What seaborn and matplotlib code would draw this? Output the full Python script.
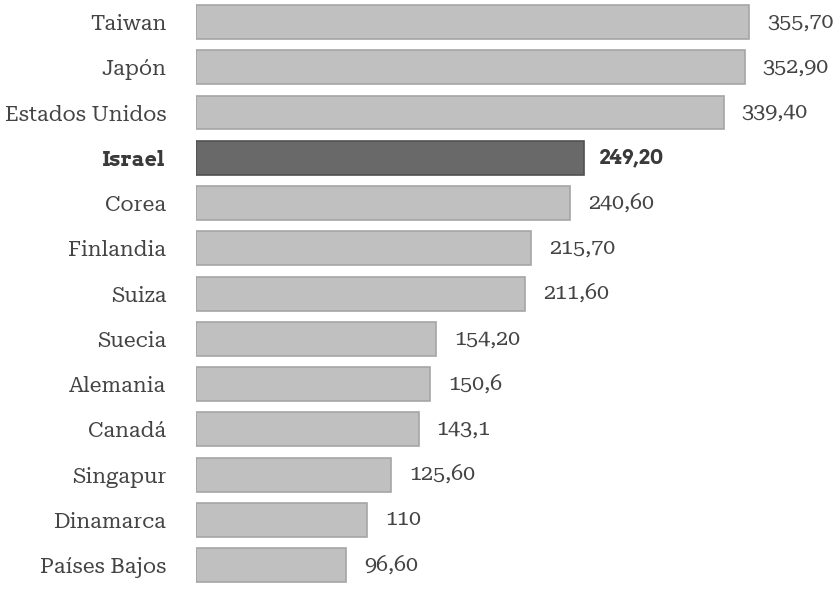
import matplotlib.pyplot as plt
import pandas as pd
import seaborn as sns

paises = ['Taiwan', 'Japón', 'Estados Unidos', 'Israel', 'Corea', 'Finlandia', 'Suiza',
          'Suecia', 'Alemania', 'Canadá', 'Singapur', 'Dinamarca', 'Países Bajos']
valores = [355.70, 352.90, 339.40, 249.20, 240.60, 215.70, 211.60,
           154.20, 150.6, 143.1, 125.60, 110, 96.60]
etiquetas = ['355,70', '352,90', '339,40', '249,20', '240,60', '215,70', '211,60',
             '154,20', '150,6', '143,1', '125,60', '110', '96,60']
destacado = 'Israel'

sns.set_style('white')
plt.rcParams['font.family'] = ['Roboto Serif', 'DejaVu Serif']

df = pd.DataFrame({'pais': paises, 'valor': valores})
colores = {p: ('#696969' if p == destacado else '#c0c0c0') for p in paises}
bordes = ['#505050' if p == destacado else '#a5a5a5' for p in paises]

fig = plt.figure(figsize=(8.35, 5.9), dpi=100)
ax = fig.add_axes([196 / 835, 0, 1 - 196 / 835, 1])
sns.barplot(data=df, x='valor', y='pais', hue='pais', palette=colores,
            legend=False, width=0.75, ax=ax, linewidth=1.2)
for patch, b in zip(ax.patches, bordes):
    patch.set_edgecolor(b)

# etiquetas de valor a la derecha de cada barra
for i, (v, txt, p) in enumerate(zip(valores, etiquetas, paises)):
    if p == destacado:
        ax.annotate(txt, (v, i), xytext=(11, 0), textcoords='offset points',
                    va='center', ha='left', fontsize=14.5, color='#3a3a3a',
                    family='Arvo', fontweight='bold')
    else:
        ax.annotate(txt, (v, i), xytext=(13, 0), textcoords='offset points',
                    va='center', ha='left', fontsize=15.5, color='#444444')

ax.set_xlim(0, 639 / 1.555)
ax.set_ylim(12.55, -0.486)
ax.set_xlabel('')
ax.set_ylabel('')
ax.set_xticks([])
ax.tick_params(axis='y', length=0, pad=21.5, labelsize=15.5, labelcolor='#444444')
for lbl in ax.get_yticklabels():
    if lbl.get_text() == destacado:
        lbl.set_family('Arvo')
        lbl.set_fontweight('bold')
        lbl.set_fontsize(15)
        lbl.set_color('#3a3a3a')
sns.despine(ax=ax, left=True, bottom=True)

fig.savefig('out.png', dpi=100)
